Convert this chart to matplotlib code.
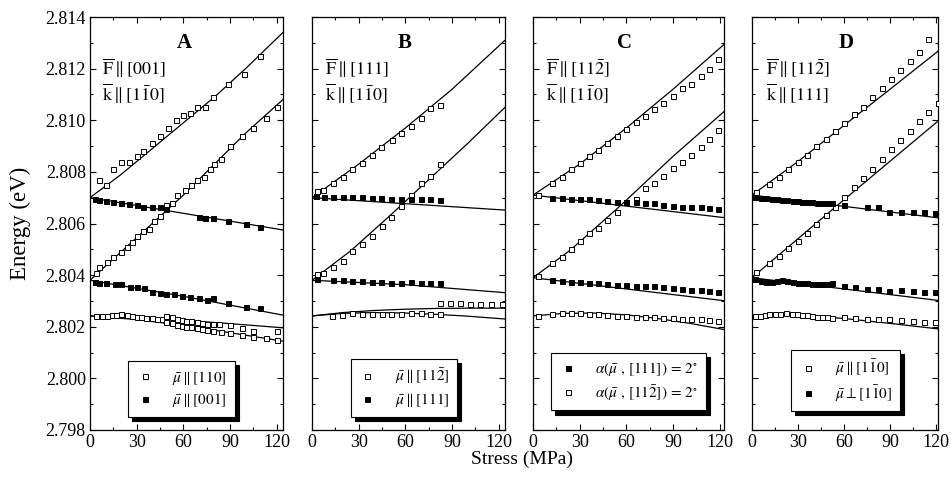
import matplotlib
matplotlib.use('Agg')
import matplotlib.pyplot as plt
from matplotlib.lines import Line2D
from matplotlib.ticker import MultipleLocator, FormatStrFormatter

plt.rcParams['font.family'] = ['Liberation Serif', 'DejaVu Serif']
plt.rcParams['mathtext.fontset'] = 'stix'

# ---------------- panel A: F || [001], k || [1-10] ----------------
a_fit1_x = [0, 20, 40, 60, 80, 100, 124]
a_fit1_y = [2.8070, 2.8079, 2.8089, 2.8099, 2.8109, 2.8120, 2.8134]
a_fit2_x = [0, 20, 40, 60, 80, 100, 124]
a_fit2_y = [2.8038, 2.8049, 2.8060, 2.8071, 2.8083, 2.8095, 2.8108]
a_fit3_x = [0, 124]
a_fit3_y = [2.8070, 2.80575]
a_fit4_x = [0, 60, 124]
a_fit4_y = [2.8038, 2.80318, 2.80245]
a_fit5_x = [0, 30, 60, 90, 124]
a_fit5_y = [2.80242, 2.80235, 2.80225, 2.80212, 2.80196]
a_fit6_x = [0, 30, 60, 90, 124]
a_fit6_y = [2.80242, 2.80228, 2.80205, 2.80177, 2.80144]

a_o1_x = [6, 10, 15, 20, 25, 30, 34, 40, 45, 50, 55, 60, 64, 69, 74, 79, 89, 99, 109]
a_o1_y = [2.8077, 2.8075, 2.8081, 2.8084, 2.8084, 2.8086, 2.8088, 2.8091, 2.8094, 2.8097,
          2.8100, 2.8102, 2.8103, 2.8105, 2.8105, 2.8109, 2.8114, 2.8118, 2.8125]
a_o2_x = [4, 6, 11, 15, 20, 24, 27, 30, 34, 38, 41, 45, 49, 53, 56, 61, 65, 69, 73, 77,
          80, 84, 90, 98, 105, 113, 120]
a_o2_y = [2.8041, 2.8043, 2.8045, 2.8047, 2.8049, 2.8051, 2.8053, 2.8055, 2.8057, 2.8058,
          2.8061, 2.8063, 2.8067, 2.8068, 2.8071, 2.8073, 2.8075, 2.8077, 2.8078, 2.8081,
          2.8083, 2.8085, 2.8090, 2.8094, 2.8097, 2.8101, 2.8105]
a_f1_x = [3, 6, 10, 15, 20, 25, 30, 34, 40, 45, 49, 70, 74, 79, 89, 100, 109]
a_f1_y = [2.80695, 2.80691, 2.80687, 2.80684, 2.80679, 2.80675, 2.80670, 2.80665, 2.80663,
          2.80663, 2.80656, 2.80626, 2.80622, 2.80620, 2.80611, 2.80597, 2.80588]
a_f2_x = [3, 6, 10, 16, 20, 26, 30, 35, 40, 45, 49, 54, 59, 64, 70, 75, 79, 89, 100, 109]
a_f2_y = [2.80374, 2.80368, 2.80368, 2.80364, 2.80364, 2.80355, 2.80353, 2.80349, 2.80336,
          2.80332, 2.80327, 2.80327, 2.80320, 2.80316, 2.80312, 2.80303, 2.80310, 2.80293,
          2.80278, 2.80271]
a_o3_x = [4, 8, 11, 14, 17, 20, 24, 27, 30, 33, 36, 40, 43, 46, 49, 53, 56, 59, 62, 65,
          69, 72, 75, 79, 83, 90, 98, 105, 120]
a_o3_y = [2.80242, 2.80242, 2.80242, 2.80244, 2.80245, 2.80248, 2.80245, 2.80242, 2.80239,
          2.80236, 2.80235, 2.80233, 2.80231, 2.80229, 2.80242, 2.80236, 2.80231, 2.80226,
          2.80223, 2.80221, 2.80217, 2.80213, 2.80211, 2.80211, 2.80209, 2.80207, 2.80194,
          2.80185, 2.80185]
a_o4_x = [49, 53, 56, 59, 62, 65, 69, 72, 75, 79, 84, 90, 98, 105, 113, 120]
a_o4_y = [2.80220, 2.80213, 2.80207, 2.80203, 2.80200, 2.80198, 2.80194, 2.80190, 2.80187,
          2.80185, 2.80181, 2.80175, 2.80168, 2.80161, 2.80155, 2.80149]

# ---------------- panel B: F || [111], k || [1-10] ----------------
b_fit1_x = [0, 30, 60, 90, 124]
b_fit1_y = [2.8070, 2.8083, 2.8097, 2.8112, 2.8131]
b_fit2_x = [0, 25, 50, 75, 100, 124]
b_fit2_y = [2.8038, 2.80495, 2.8063, 2.8077, 2.8091, 2.8105]
b_fit3_x = [0, 124]
b_fit3_y = [2.8070, 2.80652]
b_fit4_x = [0, 60, 124]
b_fit4_y = [2.8038, 2.80363, 2.80332]
b_fit5_x = [0, 20, 40, 60, 80, 100, 124]
b_fit5_y = [2.80242, 2.80255, 2.80263, 2.80268, 2.80271, 2.80272, 2.80272]
b_fit6_x = [0, 20, 40, 60, 80, 100, 124]
b_fit6_y = [2.80242, 2.80252, 2.80255, 2.80253, 2.80248, 2.80241, 2.80230]

b_o1_x = [3.4, 6.9, 13.3, 19.7, 25.9, 32.1, 38.4, 44.6, 51.2, 57.2, 63.6, 69.8, 76.0, 82.3]
b_o1_y = [2.80726, 2.80730, 2.80758, 2.80779, 2.80810, 2.80833, 2.80864, 2.80898, 2.80923,
          2.80952, 2.80979, 2.81010, 2.81046, 2.81059]
b_o2_x = [3.4, 6.9, 13.3, 19.7, 25.9, 32.1, 38.4, 44.8, 51.0, 57.2, 63.6, 69.8, 76.0, 82.3]
b_o2_y = [2.80403, 2.80407, 2.80433, 2.80456, 2.80492, 2.80520, 2.80553, 2.80591, 2.80626,
          2.80668, 2.80710, 2.80758, 2.80784, 2.80830]
b_f1_x = [2.6, 7.7, 13.7, 20.1, 25.9, 32.1, 38.4, 44.6, 51.0, 57.2, 63.6, 69.8, 76.0, 82.3]
b_f1_y = [2.80706, 2.80704, 2.80704, 2.80704, 2.80703, 2.80701, 2.80700, 2.80697, 2.80695,
          2.80695, 2.80695, 2.80695, 2.80694, 2.80691]
b_f2_x = [3.4, 13.3, 19.7, 25.9, 32.1, 38.4, 44.6, 51.0, 57.2, 63.6, 69.8, 76.0, 82.3]
b_f2_y = [2.80384, 2.80381, 2.80381, 2.80378, 2.80377, 2.80375, 2.80372, 2.80371, 2.80371,
          2.80372, 2.80371, 2.80371, 2.80368]
b_o3_x = [12.6, 19.1, 25.9, 32.4, 38.4, 44.8, 51.0, 57.2, 63.6, 69.8, 76.0, 82.3]
b_o3_y = [2.80242, 2.80245, 2.80252, 2.80249, 2.80250, 2.80250, 2.80250, 2.80250, 2.80252,
          2.80252, 2.80249, 2.80248]
b_o4_x = [82.3, 88.7, 95.1, 101.5, 108.0, 115.0, 121.9]
b_o4_y = [2.80291, 2.80291, 2.80291, 2.80288, 2.80288, 2.80288, 2.80288]

# ---------------- panel C: F || [11-2], k || [1-10] ----------------
c_fit1_x = [0, 30, 60, 90, 124]
c_fit1_y = [2.8071, 2.8083, 2.8097, 2.8112, 2.8130]
c_fit2_x = [0, 24, 56, 90, 124]
c_fit2_y = [2.8039, 2.80497, 2.80668, 2.8086, 2.8104]
c_fit3_x = [0, 124]
c_fit3_y = [2.8071, 2.80622]
c_fit4_x = [0, 124]
c_fit4_y = [2.8039, 2.8030]
c_fit5_x = [0, 20, 40, 60, 80, 100, 124]
c_fit5_y = [2.80242, 2.80252, 2.80253, 2.80246, 2.80232, 2.80214, 2.80188]

c_x = [3.0, 12.0, 18.4, 24.2, 30.2, 36.2, 42.0, 47.8, 53.8, 59.8, 66.0, 72.0, 78.0, 83.8,
       89.8, 95.8, 101.5, 107.8, 113.3, 119.1]
c_o1_y = [2.80710, 2.80758, 2.80781, 2.80810, 2.80836, 2.80861, 2.80885, 2.80911, 2.80939,
          2.80965, 2.80992, 2.81018, 2.81042, 2.81068, 2.81094, 2.81124, 2.81139, 2.81171,
          2.81197, 2.81236]
c_o2_y = [2.80397, 2.80446, 2.80471, 2.80500, 2.80534, 2.80562, 2.80584, 2.80613, 2.80646,
          2.80682, 2.80695, 2.80736, 2.80758, 2.80785, 2.80814, 2.80839, 2.80865, 2.80897,
          2.80926, 2.80962]
c_f_x = [12.0, 18.4, 24.2, 30.2, 36.2, 42.0, 47.8, 53.8, 59.8, 66.0, 72.0, 78.0, 83.8,
         89.8, 95.8, 101.5, 107.8, 113.3, 119.1]
c_f1_y = [2.80700, 2.80697, 2.80695, 2.80695, 2.80694, 2.80691, 2.80688, 2.80684, 2.80682,
          2.80684, 2.80680, 2.80678, 2.80671, 2.80668, 2.80665, 2.80663, 2.80663, 2.80659,
          2.80655]
c_f2_y = [2.80381, 2.80378, 2.80375, 2.80375, 2.80371, 2.80368, 2.80366, 2.80362, 2.80360,
          2.80358, 2.80356, 2.80356, 2.80353, 2.80349, 2.80345, 2.80343, 2.80343, 2.80339,
          2.80336]
c_o3_y = [2.80242, 2.80248, 2.80252, 2.80252, 2.80252, 2.80249, 2.80249, 2.80245, 2.80242,
          2.80242, 2.80239, 2.80236, 2.80236, 2.80233, 2.80233, 2.80229, 2.80229, 2.80229,
          2.80226, 2.80223]

# ---------------- panel D: F || [11-2], k || [111] ----------------
d_fit1_x = [0, 30, 60, 90, 124]
d_fit1_y = [2.8071, 2.8084, 2.8098, 2.8112, 2.8128]
d_fit2_x = [0, 60, 124]
d_fit2_y = [2.8039, 2.80692, 2.8101]
d_fit3_x = [0, 124]
d_fit3_y = [2.8071, 2.8062]
d_fit4_x = [0, 124]
d_fit4_y = [2.8039, 2.8030]
d_fit5_x = [0, 30, 60, 90, 124]
d_fit5_y = [2.80245, 2.80245, 2.80232, 2.80213, 2.80190]

d_o1_x = [2.8, 11.4, 17.4, 23.7, 29.7, 35.7, 42.0, 48.0, 54.0, 60.2, 66.3, 72.3, 78.5,
          84.5, 90.5, 96.8, 102.8, 108.8, 115.1]
d_o1_y = [2.80723, 2.80752, 2.80781, 2.80810, 2.80837, 2.80865, 2.80900, 2.80927, 2.80958,
          2.80990, 2.81023, 2.81052, 2.81091, 2.81124, 2.81159, 2.81195, 2.81231, 2.81266,
          2.81315]
d_o2_x = [2.8, 11.4, 17.4, 23.7, 29.7, 35.7, 42.0, 48.0, 54.0, 60.2, 66.3, 72.3, 78.5,
          84.5, 90.5, 96.8, 102.8, 108.8, 115.1, 121.1]
d_o2_y = [2.80413, 2.80446, 2.80474, 2.80506, 2.80534, 2.80565, 2.80598, 2.80633, 2.80663,
          2.80701, 2.80740, 2.80775, 2.80810, 2.80849, 2.80887, 2.80923, 2.80959, 2.80998,
          2.81033, 2.81068]
d_f1_x = [1.7, 6.0, 9.2, 12.9, 16.1, 19.4, 22.8, 26.5, 29.7, 32.9, 36.1, 39.4, 42.6, 45.8,
          49.0, 52.3, 59.8, 74.8, 82.4, 89.5, 97.0, 104.9, 112.5, 119.6]
d_f1_y = [2.80704, 2.80697, 2.80697, 2.80695, 2.80694, 2.80691, 2.80691, 2.80688, 2.80688,
          2.80684, 2.80684, 2.80682, 2.80680, 2.80680, 2.80678, 2.80680, 2.80671, 2.80663,
          2.80663, 2.80646, 2.80644, 2.80644, 2.80646, 2.80642]
d_f2_x = [1.7, 6.0, 9.2, 12.9, 16.1, 19.4, 22.8, 26.5, 29.7, 32.9, 36.1, 39.4, 42.6, 45.8,
          49.0, 52.3, 59.8, 67.3, 74.8, 82.4, 89.5, 97.0, 104.9, 112.5, 119.6]
d_f2_y = [2.80384, 2.80378, 2.80375, 2.80375, 2.80378, 2.80381, 2.80378, 2.80372, 2.80368,
          2.80368, 2.80368, 2.80366, 2.80366, 2.80366, 2.80364, 2.80368, 2.80356, 2.80353,
          2.80345, 2.80345, 2.80340, 2.80343, 2.80339, 2.80333, 2.80333]
d_o3_x = [1.7, 5.0, 8.2, 11.4, 15.1, 18.5, 22.2, 25.8, 29.2, 32.5, 35.7, 39.4, 42.6, 45.8,
          49.0, 52.3, 59.8, 67.3, 74.8, 82.4, 89.5, 97.0, 104.9, 112.5, 119.6]
d_o3_y = [2.80242, 2.80242, 2.80245, 2.80248, 2.80249, 2.80248, 2.80252, 2.80249, 2.80248,
          2.80245, 2.80245, 2.80243, 2.80239, 2.80236, 2.80236, 2.80235, 2.80236, 2.80233,
          2.80230, 2.80229, 2.80229, 2.80226, 2.80223, 2.80220, 2.80220]

# ---------------- text ----------------
panel_names = ['A', 'B', 'C', 'D']
field_labels = [r'$\overline{\mathrm{F}}\parallel[001]$', r'$\overline{\mathrm{F}}\parallel[111]$',
                r'$\overline{\mathrm{F}}\parallel[11\bar{2}]$', r'$\overline{\mathrm{F}}\parallel[11\bar{2}]$']
k_labels = [r'$\overline{\mathrm{k}}\parallel[1\bar{1}0]$', r'$\overline{\mathrm{k}}\parallel[1\bar{1}0]$',
            r'$\overline{\mathrm{k}}\parallel[1\bar{1}0]$', r'$\overline{\mathrm{k}}\parallel[111]$']
legend_labels = [
    [r'$\bar{\mu}\parallel[110]$', r'$\bar{\mu}\parallel[001]$'],
    [r'$\bar{\mu}\parallel[11\bar{2}]$', r'$\bar{\mu}\parallel[111]$'],
    [r'$\alpha(\bar{\mu}\ ,\,[111])\,=\,2^{\circ}$', r'$\alpha(\bar{\mu}\ ,\,[11\bar{2}])\,=\,2^{\circ}$'],
    [r'$\bar{\mu}\parallel[1\bar{1}0]$', r'$\bar{\mu}\perp[1\bar{1}0]$'],
]
legend_fills = [['white', 'k'], ['white', 'k'], ['k', 'white'], ['white', 'k']]

fig = plt.figure(figsize=(9.51, 4.79), dpi=100)

# axes placement (figure fractions) and x range of each panel
boxes = [(0.0946, 0.2029), (0.3281, 0.2029), (0.5605, 0.2008), (0.7907, 0.1956)]
xmaxs = [124, 124, 122.8, 121.3]
legend_pos = [(0.197, 0.167), (0.20, 0.172), (0.093, 0.187), (0.21, 0.194)]
letter_x = [0.49, 0.48, 0.48, 0.507]
text_x = [0.06, 0.067, 0.068, 0.076]

fits = [
    [(a_fit1_x, a_fit1_y), (a_fit2_x, a_fit2_y), (a_fit3_x, a_fit3_y), (a_fit4_x, a_fit4_y),
     (a_fit5_x, a_fit5_y), (a_fit6_x, a_fit6_y)],
    [(b_fit1_x, b_fit1_y), (b_fit2_x, b_fit2_y), (b_fit3_x, b_fit3_y), (b_fit4_x, b_fit4_y),
     (b_fit5_x, b_fit5_y), (b_fit6_x, b_fit6_y)],
    [(c_fit1_x, c_fit1_y), (c_fit2_x, c_fit2_y), (c_fit3_x, c_fit3_y), (c_fit4_x, c_fit4_y),
     (c_fit5_x, c_fit5_y)],
    [(d_fit1_x, d_fit1_y), (d_fit2_x, d_fit2_y), (d_fit3_x, d_fit3_y), (d_fit4_x, d_fit4_y),
     (d_fit5_x, d_fit5_y)],
]
open_pts = [
    [(a_o1_x, a_o1_y), (a_o2_x, a_o2_y), (a_o3_x, a_o3_y), (a_o4_x, a_o4_y)],
    [(b_o1_x, b_o1_y), (b_o2_x, b_o2_y), (b_o3_x, b_o3_y), (b_o4_x, b_o4_y)],
    [(c_x, c_o1_y), (c_x, c_o2_y), (c_x, c_o3_y)],
    [(d_o1_x, d_o1_y), (d_o2_x, d_o2_y), (d_o3_x, d_o3_y)],
]
filled_pts = [
    [(a_f1_x, a_f1_y), (a_f2_x, a_f2_y)],
    [(b_f1_x, b_f1_y), (b_f2_x, b_f2_y)],
    [(c_f_x, c_f1_y), (c_f_x, c_f2_y)],
    [(d_f1_x, d_f1_y), (d_f2_x, d_f2_y)],
]

for i in range(4):
    left, width = boxes[i]
    ax = fig.add_axes([left, 0.1023, width, 0.8622])

    for fx, fy in fits[i]:
        ax.plot(fx, fy, color='k', lw=0.9, zorder=2)
    for px, py in open_pts[i]:
        ax.plot(px, py, ls='none', marker='s', ms=3.6, mfc='white', mec='k', mew=0.7, zorder=3)
    for px, py in filled_pts[i]:
        ax.plot(px, py, ls='none', marker='s', ms=3.6, mfc='k', mec='k', mew=0.7, zorder=3)

    ax.set_xlim(0, xmaxs[i])
    ax.set_ylim(2.798, 2.814)
    ax.xaxis.set_major_locator(MultipleLocator(30))
    ax.xaxis.set_minor_locator(MultipleLocator(15))
    ax.yaxis.set_major_locator(MultipleLocator(0.002))
    ax.yaxis.set_minor_locator(MultipleLocator(0.001))
    ax.yaxis.set_major_formatter(FormatStrFormatter('%.3f'))
    ax.tick_params(which='both', direction='in', top=True, right=True, labelsize=13, pad=3)
    ax.tick_params(which='major', length=4, width=0.8)
    ax.tick_params(which='minor', length=2.5, width=0.8)
    if i > 0:
        ax.tick_params(labelleft=False)
    for sp in ax.spines.values():
        sp.set_linewidth(0.9)

    ax.text(letter_x[i], 0.937, panel_names[i], transform=ax.transAxes, ha='center',
            va='center', fontsize=15, fontweight='bold')
    ax.text(text_x[i], 0.876, field_labels[i], transform=ax.transAxes, ha='left',
            va='center', fontsize=13)
    ax.text(text_x[i], 0.815, k_labels[i], transform=ax.transAxes, ha='left',
            va='center', fontsize=13)

    handles = [Line2D([], [], ls='none', marker='s', ms=3.6, mfc=fc, mec='k', mew=0.7)
               for fc in legend_fills[i]]
    leg = ax.legend(handles, legend_labels[i], loc='upper left', bbox_to_anchor=legend_pos[i],
                    frameon=True, fancybox=False, framealpha=1, edgecolor='k',
                    shadow={'ox': 3, 'oy': -3, 'color': 'k', 'alpha': 1},
                    fontsize=11, handlelength=1.2, handletextpad=1.2, borderpad=0.5,
                    labelspacing=0.3, borderaxespad=0)
    leg.get_frame().set_linewidth(0.8)

fig.text(0.021, 0.534, 'Energy (eV)', rotation=90, ha='center', va='center', fontsize=16.5)
fig.text(0.5486, 0.040, 'Stress (MPa)', ha='center', va='center', fontsize=14)

fig.savefig('out.png', dpi=100)
